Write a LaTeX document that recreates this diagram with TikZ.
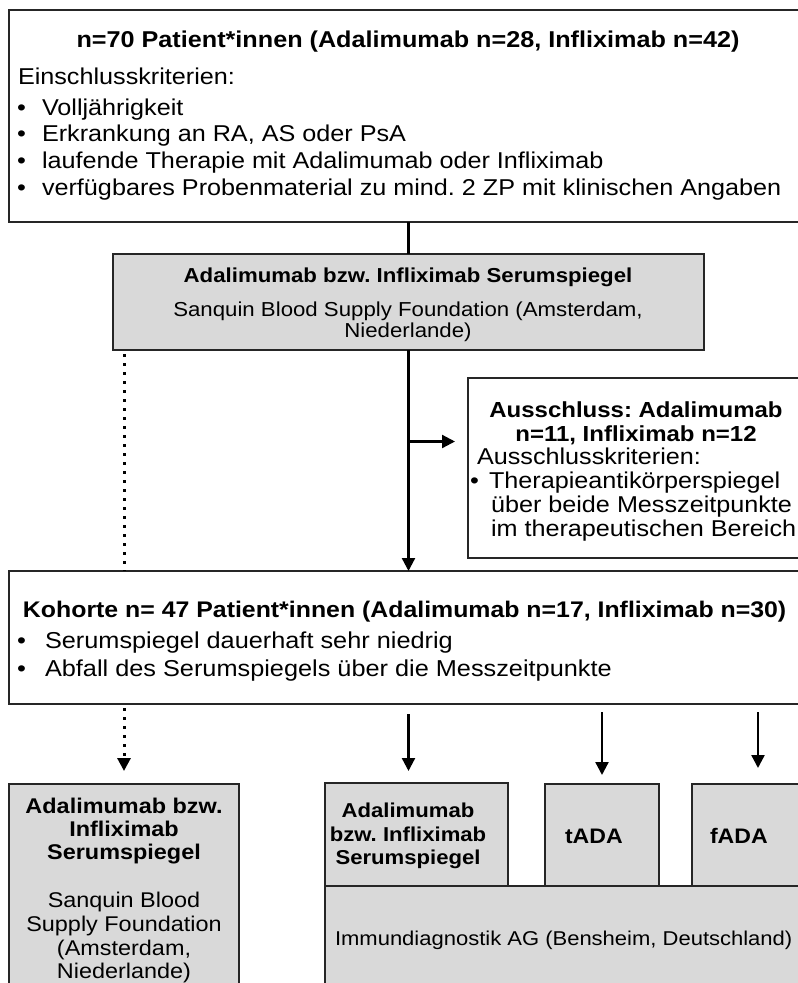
\documentclass[tikz,border=0pt]{standalone}
\usepackage{fontspec}
\setmainfont{Liberation Sans}[FakeStretch=1.1]
\usetikzlibrary{arrows.meta}
\newcommand\fsz[1]{\fontsize{#1}{#1}\selectfont}
\frenchspacing
\begin{document}
\begin{tikzpicture}[x=1pt,y=-1pt,
  box/.style={draw=black!85,line width=1.4pt,inner sep=0pt,outer sep=0pt,anchor=north west},
  gbox/.style={box,fill=gray!30},
  txt/.style={inner sep=0pt,outer sep=0pt,font=\frenchspacing},
  conn/.style={line width=2.3pt,-{Triangle[length=13pt,width=13pt]}},
  plainline/.style={line width=2.3pt},
  dots/.style={line width=3pt,dash pattern=on 3pt off 6pt}]
\useasboundingbox (0,0) rectangle (798,983);
\fill[white] (0,0) rectangle (798,983);

% ---------- boxes ----------
\node[box,minimum width=820pt,minimum height=212pt] (top) at (9,10) {};
\node[gbox,minimum width=591pt,minimum height=96pt] (g1) at (113,254) {};
\node[box,minimum width=370pt,minimum height=180pt] (ex) at (468,378) {};
\node[box,minimum width=830pt,minimum height=133pt] (ko) at (9,571) {};
\node[gbox,minimum width=230pt,minimum height=230pt] (bl) at (9,784) {};
\node[gbox,minimum width=183pt,minimum height=103pt] (ba) at (325,783) {};
\node[gbox,minimum width=114pt,minimum height=102pt] (tada) at (545,784) {};
\node[gbox,minimum width=132pt,minimum height=102pt] (fada) at (692,784) {};
\node[gbox,minimum width=510pt,minimum height=130pt] (imm) at (325,886) {};

% ---------- top box text ----------
\node[txt,anchor=base] (t0) at (408,47) {\fsz{22.9}\bfseries n=70 Patient*innen (Adalimumab n=28, Infliximab n=42)};
\node[txt,anchor=base west] (t1) at (18,84) {\fsz{22.9}Einschlusskriterien:};
\foreach \i/\yy/\s in {1/115/{Volljährigkeit},2/141/{Erkrankung an RA, AS oder PsA},3/168/{laufende Therapie mit Adalimumab oder Infliximab},4/195/{verfügbares Probenmaterial zu mind. 2 ZP mit klinischen Angaben}}{
  \node[txt,anchor=base west] (tb\i) at (17,\yy) {\fsz{22.9}•};
  \node[txt,anchor=base west] (tl\i) at (42,\yy) {\fsz{22.9}\s};
}

% ---------- gray box 1 text ----------
\node[txt,anchor=base] (g1a) at (408,282) {\fsz{20.2}\bfseries Adalimumab bzw. Infliximab Serumspiegel};
\node[txt,anchor=base] (g1b) at (408,316) {\fsz{20.2}Sanquin Blood Supply Foundation (Amsterdam,};
\node[txt,anchor=base] (g1c) at (408,337) {\fsz{20.2}Niederlande)};

% ---------- exclusion box text ----------
\node[txt,anchor=base] (exa) at (636,417) {\fsz{21.8}\bfseries Ausschluss: Adalimumab};
\node[txt,anchor=base] (exb) at (636,441) {\fsz{21.8}\bfseries n=11, Infliximab n=12};
\node[txt,anchor=base west] (exc) at (477,464) {\fsz{22.9}Ausschlusskriterien:};
\node[txt,anchor=base west] (exd) at (470,488) {\fsz{22.9}•};
\node[txt,anchor=base west] (exe) at (489,488) {\fsz{22.9}Therapieantikörperspiegel};
\node[txt,anchor=base west] (exf) at (491,512) {\fsz{22.9}über beide Messzeitpunkte};
\node[txt,anchor=base west] (exg) at (491,536) {\fsz{22.9}im therapeutischen Bereich};

% ---------- Kohorte box text ----------
\node[txt,anchor=base west] (koa) at (23,617) {\fsz{22.6}\bfseries Kohorte n= 47 Patient*innen (Adalimumab n=17, Infliximab n=30)};
\node[txt,anchor=base west] (kob1) at (17,648) {\fsz{23}•};
\node[txt,anchor=base west] (kob2) at (45,648) {\fsz{23}Serumspiegel dauerhaft sehr niedrig};
\node[txt,anchor=base west] (koc1) at (17,676) {\fsz{23}•};
\node[txt,anchor=base west] (koc2) at (45,676) {\fsz{23}Abfall des Serumspiegels über die Messzeitpunkte};

% ---------- bottom-left box text ----------
\foreach \i/\yy/\s in {1/813/{Adalimumab bzw.},2/836/{Infliximab},3/859/{Serumspiegel}}{
  \node[txt,anchor=base] (bla\i) at (124,\yy) {\fsz{21.3}\bfseries \s};
}
\foreach \i/\yy/\s in {1/907/{Sanquin Blood},2/931/{Supply Foundation},3/955/{(Amsterdam,},4/978/{Niederlande)}}{
  \node[txt,anchor=base] (blb\i) at (124,\yy) {\fsz{21.3}\s};
}

% ---------- right bottom boxes text ----------
\foreach \i/\yy/\s in {1/817/{Adalimumab},2/841/{bzw. Infliximab},3/864/{Serumspiegel}}{
  \node[txt,anchor=base] (baa\i) at (408,\yy) {\fsz{20.1}\bfseries \s};
}
\node[txt,anchor=base west] (tadat) at (565,843) {\fsz{21}\bfseries tADA};
\node[txt,anchor=base west] (fadat) at (710,843) {\fsz{21}\bfseries fADA};
\node[txt,anchor=base west] (immt) at (335,945) {\fsz{20}Immundiagnostik AG (Bensheim, Deutschland)};

% ---------- connectors ----------
\draw[plainline] (g1.north |- top.south) -- (g1.north);
\draw[conn] (g1.south) -- (ko.north -| g1.south);
\coordinate (brs) at (408.5,441.5);
\draw[conn,shorten >=13pt] (brs) -- (brs -| ex.west);
\draw[dots] ([yshift=-4pt]g1.south -| bl.north) -- (ko.north -| bl.north);
\draw[dots,-{Triangle[length=13pt,width=13pt]},shorten >=13pt] ([yshift=-4pt]ko.south -| bl.north) -- (bl.north);
\draw[conn,shorten <=10pt,shorten >=12pt] (ko.south -| g1.south) -- (ba.north -| g1.south);
\draw[conn,shorten <=8pt,shorten >=9pt] (ko.south -| tada.north) -- (tada.north);
\draw[conn,shorten <=8pt,shorten >=16pt] (ko.south -| fada.north) -- (fada.north);
\end{tikzpicture}
\end{document}
